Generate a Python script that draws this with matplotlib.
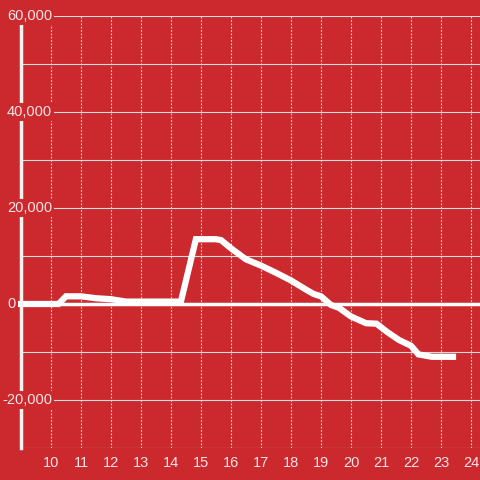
import matplotlib
matplotlib.use("Agg")
import matplotlib.pyplot as plt
import matplotlib.transforms as mtransforms

# hour of day vs. value
hours = [9.0, 10.25, 10.5, 11.0, 11.5, 12.0, 12.5, 13.0, 14.0, 14.33,
         14.83, 15.5, 15.67, 16.0, 16.5, 17.0, 17.5, 18.0, 18.5, 18.75,
         19.0, 19.33, 19.6, 20.0, 20.5, 20.85, 21.2, 21.6, 22.0, 22.25,
         22.7, 23.4]
values = [0, 0, 1600, 1600, 1200, 1000, 500, 500, 500, 500,
          13500, 13500, 13300, 11600, 9300, 8000, 6500, 4900, 3000, 2100,
          1600, -200, -800, -2600, -4000, -4100, -5800, -7500, -8700, -10500,
          -11000, -11000]

x_ticks = list(range(10, 25))
y_ticks = [-20000, 0, 20000, 40000, 60000]
y_labels = ["-20,000", "0", "20,000", "40,000", "60,000"]

RED = "#cc292e"
GRID = "#dcdcdc"
TXT = "#f4e4e4"

fig = plt.figure(figsize=(4.8, 4.8), dpi=100, facecolor=RED)
ax = fig.add_axes([21 / 480, 32 / 480, 459 / 480, 432 / 480])
ax.set_facecolor(RED)
ax.set_xlim(9, 24.3)
ax.set_ylim(-30000, 60000)

# grid
for v in range(-30000, 60001, 10000):
    if v == 0:
        continue
    ax.axhline(v, color=GRID, lw=0.8, zorder=1)
for h in x_ticks:
    ax.axvline(h, color=GRID, lw=0.8, ls=(0, (1.5, 1.5)), zorder=1)
ax.axhline(0, color="white", lw=2.5, zorder=2)

ax.plot(hours, values, color="white", lw=4.5, solid_joinstyle="miter",
        zorder=3, clip_on=False)

for s in ["top", "right", "bottom"]:
    ax.spines[s].set_visible(False)
ax.spines["left"].set_color("#f2f2f2")
ax.spines["left"].set_linewidth(2.5)
ax.spines["left"].set_zorder(4)

ax.set_yticks([])
ax.set_xticks(x_ticks)
ax.set_xticklabels([str(h) for h in x_ticks], color=TXT, fontsize=10.5,
                   family="Liberation Sans")
ax.tick_params(axis="x", length=0, pad=6)

trans = mtransforms.blended_transform_factory(fig.transFigure, ax.transData)
for v, lab in zip(y_ticks, y_labels):
    right = 16 if lab == "0" else 52
    ax.text(right / 480, v, lab, transform=trans, ha="right", va="center",
            color=TXT, fontsize=10.5, family="Liberation Sans", zorder=5,
            bbox=dict(facecolor=RED, edgecolor="none", pad=1.5),
            clip_on=False)

fig.savefig("out.png", dpi=100, facecolor=RED)
